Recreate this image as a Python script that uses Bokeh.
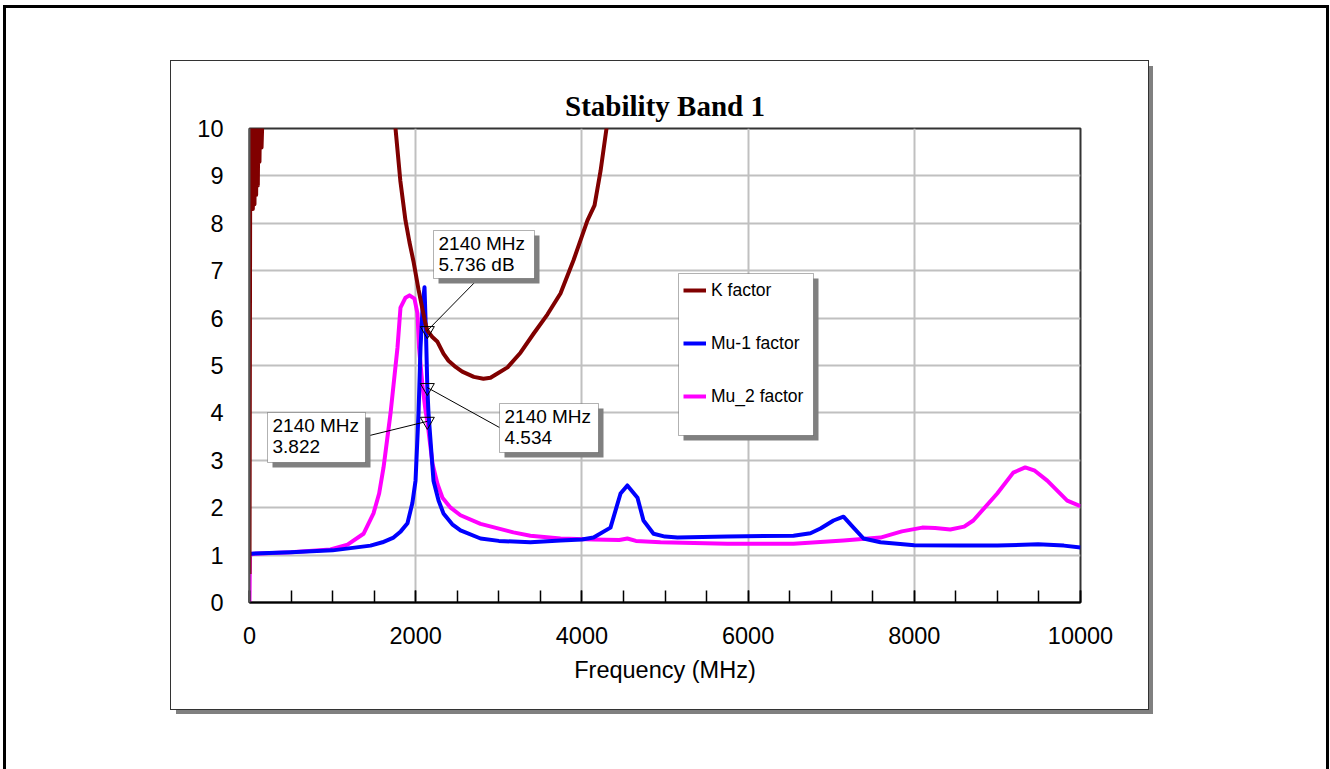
from bokeh.plotting import figure
from bokeh.models import (Range1d, FixedTicker, BoxAnnotation, Label, Legend, LegendItem)
from bokeh.embed import file_html
from bokeh.resources import INLINE

# ---------------- data ----------------
k_freq = [0, 10, 20, 30, 40, 50, 60, 70, 80, 90, 100, 110, 120, 130, 145, 400, 1000, 1700, 1757, 1815, 1877,
          1925, 1973, 2034, 2080, 2118, 2140, 2200, 2262, 2334, 2395, 2480, 2560, 2700, 2815, 2900, 2984, 3105,
          3261, 3418, 3586, 3742, 3899, 4067, 4152, 4224, 4296, 4400]
k_val = [0.6, 10.6, 8.4, 10.6, 8.3, 10.6, 8.4, 10.6, 8.6, 10.6, 8.8, 10.6, 9.3, 10.6, 9.6, 25, 40, 11.5, 10.0, 8.9, 8.06,
         7.6, 7.2, 6.6, 6.2, 5.88, 5.736, 5.6, 5.5, 5.25, 5.1, 4.97, 4.87, 4.76, 4.72, 4.74, 4.83, 4.96,
         5.27, 5.67, 6.08, 6.52, 7.22, 8.06, 8.38, 9.1, 10.0, 12.0]

mu1_freq = [0, 500, 1000, 1456, 1600, 1733, 1820, 1901, 1960, 1998, 2034, 2058, 2085, 2106, 2125, 2140, 2154,
            2214, 2275, 2334, 2440, 2539, 2780, 3000, 3380, 3743, 4000, 4140, 4344, 4465, 4547, 4669, 4741,
            4862, 5000, 5150, 5752, 6546, 6750, 6871, 7028, 7148, 7268, 7389, 7593, 8000, 8550, 9000, 9490,
            9800, 10000]
mu1_val = [1.03, 1.06, 1.1, 1.2, 1.27, 1.37, 1.5, 1.67, 2.1, 2.57, 3.99, 5.38, 6.3, 6.65, 5.6, 4.534, 3.99,
           2.57, 2.15, 1.88, 1.65, 1.52, 1.35, 1.3, 1.27, 1.31, 1.33, 1.37, 1.58, 2.3, 2.47, 2.21, 1.73,
           1.45, 1.39, 1.37, 1.39, 1.41, 1.46, 1.56, 1.73, 1.81, 1.58, 1.35, 1.27, 1.21, 1.2, 1.2, 1.23,
           1.2, 1.16]

mu2_freq = [0, 5, 50, 500, 975, 1180, 1372, 1492, 1560, 1613, 1697, 1781, 1817, 1877, 1925, 1985, 2021, 2040,
            2080, 2118, 2140, 2202, 2262, 2322, 2420, 2539, 2780, 3176, 3380, 3743, 4140, 4450, 4547, 4650,
            4946, 5752, 6546, 7148, 7593, 7850, 8096, 8250, 8433, 8600, 8710, 8998, 9191, 9335, 9450, 9600,
            9840, 10000]
mu2_val = [0.0, 1.0, 1.03, 1.06, 1.12, 1.22, 1.45, 1.88, 2.3, 2.85, 3.99, 5.38, 6.22, 6.43, 6.48, 6.41, 6.1, 5.38,
           4.6, 4.05, 3.822, 2.93, 2.5, 2.21, 2.0, 1.84, 1.66, 1.48, 1.41, 1.35, 1.33, 1.32, 1.35, 1.3,
           1.27, 1.24, 1.24, 1.31, 1.37, 1.5, 1.58, 1.57, 1.54, 1.6, 1.73, 2.3, 2.74, 2.85, 2.78, 2.57,
           2.15, 2.03]

series_names = ["K factor", "Mu-1 factor", "Mu_2 factor"]
marker_freq = 2140
marker_vals = [5.736, 4.534, 3.822]
marker_line1 = ["2140 MHz", "2140 MHz", "2140 MHz"]
marker_line2 = ["5.736 dB", "4.534", "3.822"]

x_ticks = [0, 2000, 4000, 6000, 8000, 10000]
x_minor_ticks = [500 * i for i in range(21)]
y_ticks = [0, 1, 2, 3, 4, 5, 6, 7, 8, 9, 10]

# ---------------- layout geometry (page pixels) ----------------
BOX_L, BOX_T, BOX_R, BOX_B = 171, 61, 1148, 709       # chart area box
FL, FR, FT, FB = 249, 1080, 128, 602                  # plot frame
X0, X1, Y0, Y1 = 0, 10000, 0, 10


def fx(px):
    return X0 + (px - FL) / (FR - FL) * (X1 - X0)


def fy(py):
    return Y0 + (FB - py) / (FB - FT) * (Y1 - Y0)


SANS = "Liberation Sans"
SERIF = "Liberation Serif"

p = figure(width=BOX_R - BOX_L, height=BOX_B - BOX_T, x_range=Range1d(X0, X1), y_range=Range1d(Y0, Y1),
           output_backend="svg", toolbar_location=None,
           min_border_left=FL - BOX_L, min_border_right=BOX_R - FR,
           min_border_top=FT - BOX_T, min_border_bottom=BOX_B - FB)
p.margin = (BOX_T, 0, 0, BOX_L)

# chart-area border, its drop shadow, and the page frame (drawn as CSS box shadows)
outer_l, outer_t, outer_r = 3, 5, 1329
spread_o = ((outer_r - outer_l) - (BOX_R - BOX_L)) / 2
off_x_o = outer_l - BOX_L + spread_o
off_y_o = outer_t - BOX_T + spread_o
spread_i = spread_o - 3
p.styles = {
    "outline": "1.5px solid #333333",
    "box-shadow": (f"5px 5px 0 0 #808080, "
                   f"{off_x_o}px {off_y_o}px 0 {spread_i}px #ffffff, "
                   f"{off_x_o}px {off_y_o}px 0 {spread_o}px #000000"),
}

p.background_fill_color = "white"
p.border_fill_color = "white"
p.outline_line_color = "#333333"
p.outline_line_width = 2

p.title.text = "Stability Band 1"
p.title.align = "center"
p.title.text_font = SERIF
p.title.text_font_size = "29px"
p.title.text_font_style = "bold"
p.title.text_color = "black"
p.title.standoff = 14

# axes
xa = p.xaxis[0]
xa.ticker = FixedTicker(ticks=x_ticks, minor_ticks=x_minor_ticks)
xa.axis_label = "Frequency (MHz)"
xa.axis_label_text_font = SANS
xa.axis_label_text_font_size = "23.5px"
xa.axis_label_text_font_style = "normal"
xa.axis_label_text_color = "black"
xa.axis_label_standoff = 10
xa.major_label_text_font = SANS
xa.major_label_text_font_size = "23.5px"
xa.major_label_text_color = "black"
xa.major_label_standoff = 24
xa.axis_line_color = "black"
xa.axis_line_width = 2
xa.major_tick_in = 12
xa.major_tick_out = 0
xa.minor_tick_in = 12
xa.minor_tick_out = 0
xa.major_tick_line_color = "black"
xa.minor_tick_line_color = "black"
xa.major_tick_line_width = 1.5
xa.minor_tick_line_width = 1.5

ya = p.yaxis[0]
ya.ticker = FixedTicker(ticks=y_ticks)
ya.major_label_text_font = SANS
ya.major_label_text_font_size = "23.5px"
ya.major_label_text_color = "black"
ya.major_label_standoff = 26
ya.axis_line_color = "#555555"
ya.axis_line_width = 2
ya.major_tick_in = 0
ya.major_tick_out = 0
ya.minor_tick_line_color = None

p.xgrid.grid_line_color = "#c0c0c0"
p.xgrid.grid_line_width = 2
p.ygrid.grid_line_color = "#c0c0c0"
p.ygrid.grid_line_width = 2

# ---------------- series ----------------
r_mu2 = p.line(mu2_freq, mu2_val, line_color="#ff00ff", line_width=4, line_join="round")
r_mu1 = p.line(mu1_freq, mu1_val, line_color="#0000ff", line_width=4, line_join="round")
r_k = p.line(k_freq, k_val, line_color="#800000", line_width=4, line_join="round")

# ---------------- marker annotations ----------------
boxes_px = [(433, 230, 534, 278), (499, 403, 598, 452), (267, 412, 365, 462)]
lead_px = [(478, 278), (499, 427), (365, 436)]
SH = 5

p.segment(x0=[fx(a) for a, b in lead_px], y0=[fy(b) for a, b in lead_px],
          x1=[marker_freq] * 3, y1=marker_vals, line_color="black", line_width=1)
p.scatter([marker_freq] * 3, marker_vals, marker="inverted_triangle", size=14,
          fill_color=None, line_color="black", line_width=1)

for (l, t, r, b), t1, t2 in zip(boxes_px, marker_line1, marker_line2):
    p.add_layout(BoxAnnotation(left=fx(l + SH), right=fx(r + SH), top=fy(t + SH), bottom=fy(b + SH),
                               fill_color="#808080", fill_alpha=1, line_alpha=0))
    p.add_layout(BoxAnnotation(left=fx(l), right=fx(r), top=fy(t), bottom=fy(b),
                               fill_color="white", fill_alpha=1, line_color="black", line_width=1))
    p.add_layout(Label(x=fx(l + 5), y=fy(t + 13), text=t1, text_font=SANS, text_font_size="19px",
                       text_baseline="middle", text_align="left", text_color="black"))
    p.add_layout(Label(x=fx(l + 5), y=fy(t + 34), text=t2, text_font=SANS, text_font_size="19px",
                       text_baseline="middle", text_align="left", text_color="black"))

# ---------------- legend ----------------
LB = (678, 273, 813, 435)
p.add_layout(BoxAnnotation(left=fx(LB[0] + SH), right=fx(LB[2] + SH), top=fy(LB[1] + SH), bottom=fy(LB[3] + SH),
                           fill_color="#808080", fill_alpha=1, line_alpha=0))
p.add_layout(BoxAnnotation(left=fx(LB[0]), right=fx(LB[2]), top=fy(LB[1]), bottom=fy(LB[3]),
                           fill_color="white", fill_alpha=1, line_color="black", line_width=1))

legend = Legend(items=[LegendItem(label=series_names[0], renderers=[r_k]),
                       LegendItem(label=series_names[1], renderers=[r_mu1]),
                       LegendItem(label=series_names[2], renderers=[r_mu2])],
                location=(683 - 6 - FL, FB - (273 + 140)),
                padding=6, spacing=31, label_height=22, glyph_height=22, glyph_width=23,
                label_standoff=5, margin=0,
                label_text_font=SANS, label_text_font_size="17.5px", label_text_color="black",
                border_line_alpha=0, background_fill_alpha=0)
p.add_layout(legend)

open("out.html", "w").write(file_html(p, INLINE))
